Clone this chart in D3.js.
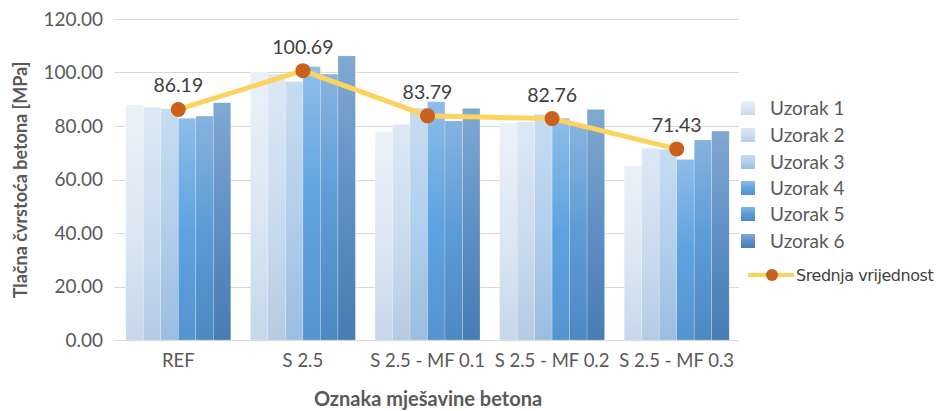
<!DOCTYPE html>
<html>
<head>
<meta charset="utf-8">
<script src="https://cdn.jsdelivr.net/npm/d3@7"></script>
<style>
  html, body { margin: 0; padding: 0; background: #fff; }
  svg { display: block; }
  text { font-family: Lato, "Open Sans", sans-serif; }
</style>
</head>
<body>
<svg id="chart" width="939" height="411"></svg>
<script>
// Mix designations (x categories)
const categories = ["REF", "S 2.5", "S 2.5 - MF 0.1", "S 2.5 - MF 0.2", "S 2.5 - MF 0.3"];

// Individual specimen strengths [MPa], one array per specimen
const uzorak1 = [87.9, 100.3, 77.8, 81.1, 65.2];
const uzorak2 = [87.0, 99.5, 80.6, 81.6, 71.7];
const uzorak3 = [86.4, 96.6, 86.7, 84.4, 71.3];
const uzorak4 = [82.9, 102.2, 89.1, 82.9, 67.5];
const uzorak5 = [83.7, 99.4, 81.9, 80.4, 74.8];
const uzorak6 = [88.7, 106.2, 86.6, 86.2, 78.1];

// Mean strength per mix
const srednja = [86.19, 100.69, 83.79, 82.76, 71.43];

const seriesNames = ["Uzorak 1", "Uzorak 2", "Uzorak 3", "Uzorak 4", "Uzorak 5", "Uzorak 6"];
const yTicks = [0, 20, 40, 60, 80, 100, 120];

const seriesValues = [uzorak1, uzorak2, uzorak3, uzorak4, uzorak5, uzorak6];

// top / middle / bottom shades for each specimen's bar gradient
const shades = [
  ["#eaf1f9", "#dde8f4", "#c6d7ea"],
  ["#dce8f5", "#cbdcef", "#b5cbe3"],
  ["#c7dcf1", "#b2cfec", "#9bbde0"],
  ["#8fbde9", "#5ea3e1", "#5494d0"],
  ["#86b3de", "#5c9bd6", "#4d88c3"],
  ["#80a9d2", "#5f8fc4", "#487cb4"]
];

const svg = d3.select("#chart");

const x = d3.scaleBand().domain(categories).range([116, 739]).paddingInner(0).paddingOuter(0);
const y = d3.scaleLinear().domain([0, 120]).range([340, 19]);

const groupInset = 9.8;
const xs = d3.scaleBand().domain(d3.range(6))
  .range([groupInset, x.bandwidth() - groupInset]).padding(0);

// gradients
const defs = svg.append("defs");
shades.forEach((s, i) => {
  const g = defs.append("linearGradient")
    .attr("id", "grad" + i).attr("x1", 0).attr("y1", 0).attr("x2", 0).attr("y2", 1);
  g.append("stop").attr("offset", "0%").attr("stop-color", s[0]);
  g.append("stop").attr("offset", "50%").attr("stop-color", s[1]);
  g.append("stop").attr("offset", "100%").attr("stop-color", s[2]);
});

// gridlines
svg.append("g").selectAll("line").data(yTicks).join("line")
  .attr("x1", 114).attr("x2", 739)
  .attr("y1", d => Math.round(y(d)) + 0.5).attr("y2", d => Math.round(y(d)) + 0.5)
  .attr("stroke", "#d9d9d9").attr("stroke-width", 1);

// y axis labels
const yAxis = d3.axisLeft(y).tickValues(yTicks).tickFormat(d3.format(".2f")).tickSize(0).tickPadding(0);
const ya = svg.append("g").attr("transform", "translate(103,0)").call(yAxis);
ya.select(".domain").remove();
ya.selectAll("text").attr("fill", "#595959").style("font-size", "19px")
  .style("font-family", "Lato, sans-serif");

// bars
const groups = svg.append("g").selectAll("g").data(categories).join("g")
  .attr("transform", d => `translate(${x(d)},0)`);
groups.selectAll("rect")
  .data((c, ci) => seriesValues.map((vals, si) => ({ si, v: vals[ci] })))
  .join("rect")
  .attr("x", d => xs(d.si))
  .attr("width", xs.bandwidth())
  .attr("y", d => y(d.v))
  .attr("height", d => y(0) - y(d.v))
  .attr("fill", d => `url(#grad${d.si})`)
  .attr("stroke", "rgba(255,255,255,0.35)").attr("stroke-width", 0.6);

// x axis
const xAxis = d3.axisBottom(x).tickSize(0).tickPadding(0);
const xa = svg.append("g").attr("transform", "translate(0,340)").call(xAxis);
xa.select(".domain").remove();
xa.selectAll("text").attr("fill", "#595959").attr("y", 27).attr("dy", null).style("font-size", "18.5px")
  .style("font-family", "Lato, sans-serif");
svg.append("line").attr("x1", 114).attr("x2", 739).attr("y1", 340.5).attr("y2", 340.5)
  .attr("stroke", "#d9d9d9");

// mean line
const cx = d => x(d) + x.bandwidth() / 2;
const line = d3.line().x((d, i) => cx(categories[i])).y(d => y(d));
svg.append("path").datum(srednja).attr("d", line)
  .attr("fill", "none").attr("stroke", "#fdd35f").attr("stroke-width", 5)
  .attr("stroke-linejoin", "round").attr("stroke-linecap", "round");
svg.append("g").selectAll("circle").data(srednja).join("circle")
  .attr("cx", (d, i) => cx(categories[i])).attr("cy", d => y(d)).attr("r", 7.5)
  .attr("fill", "#c9601b");
svg.append("g").selectAll("text").data(srednja).join("text")
  .attr("x", (d, i) => cx(categories[i])).attr("y", d => y(d) - 17)
  .attr("text-anchor", "middle").attr("fill", "#404040")
  .style("font-size", "19.5px")
  .text(d => d3.format(".2f")(d));

// axis titles
svg.append("text").attr("transform", "translate(27,180) rotate(-90)")
  .attr("text-anchor", "middle").attr("fill", "#595959")
  .style("font-size", "18px").style("font-weight", "bold")
  .text("Tlačna čvrstoća betona [MPa]");
svg.append("text").attr("x", 428).attr("y", 406)
  .attr("text-anchor", "middle").attr("fill", "#595959")
  .style("font-size", "20px").style("font-weight", "bold")
  .text("Oznaka mješavine betona");

// legend
const legRows = [108, 135, 162, 188, 214, 241];
const leg = svg.append("g");
seriesNames.forEach((n, i) => {
  leg.append("rect").attr("x", 741).attr("y", legRows[i] - 7).attr("width", 14).attr("height", 14)
    .attr("fill", `url(#grad${i})`);
  leg.append("text").attr("x", 770).attr("y", legRows[i]).attr("dy", "0.35em")
    .attr("fill", "#595959").style("font-size", "19px").text(n);
});
leg.append("line").attr("x1", 748).attr("x2", 794).attr("y1", 275).attr("y2", 275)
  .attr("stroke", "#fdd35f").attr("stroke-width", 4);
leg.append("circle").attr("cx", 772).attr("cy", 275).attr("r", 6).attr("fill", "#c9601b");
leg.append("text").attr("x", 796).attr("y", 275).attr("dy", "0.35em")
  .attr("fill", "#404040").style("font-size", "16px")
  .style("font-family", "'DejaVu Sans', sans-serif").style("letter-spacing", "-0.45px")
  .text("Srednja vrijednost");
</script>
</body>
</html>
